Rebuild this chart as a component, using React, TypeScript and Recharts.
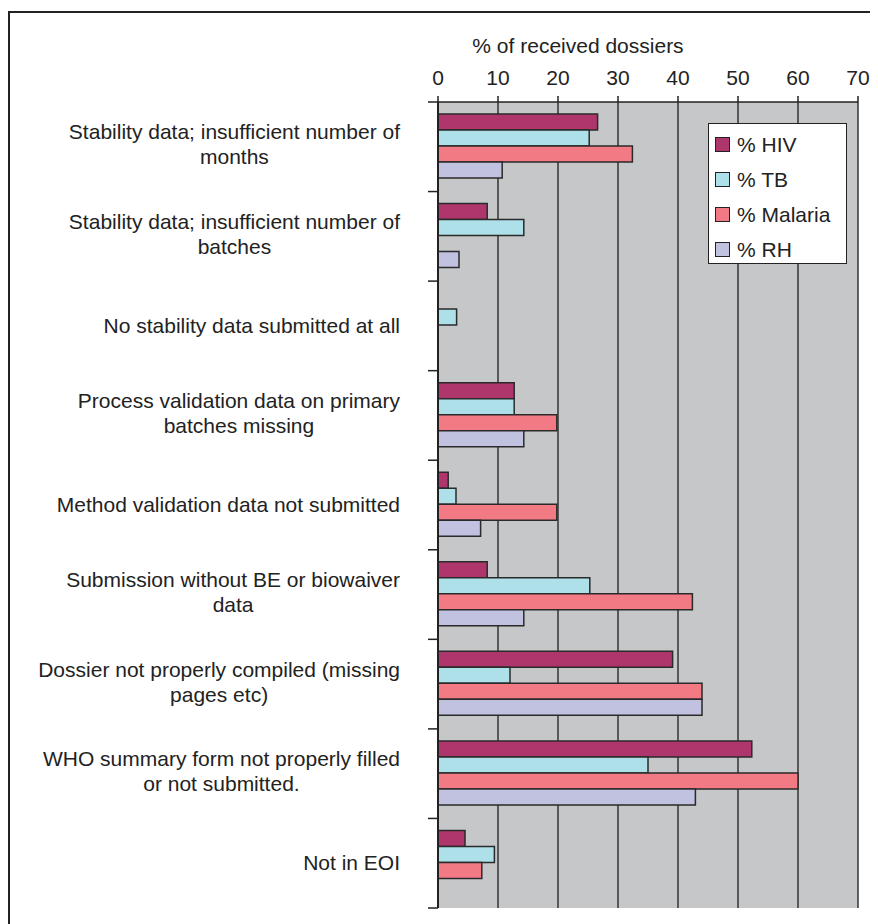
import React from 'react';
import { BarChart, Bar, XAxis, YAxis, CartesianGrid, Label } from 'recharts';

const categories = [
  'Stability data; insufficient number of\nmonths',
  'Stability data; insufficient number of\nbatches',
  'No stability data submitted at all',
  'Process validation data on primary\nbatches missing',
  'Method validation data not submitted',
  'Submission without BE or biowaiver\ndata',
  'Dossier not properly compiled (missing\npages etc)',
  'WHO summary form not properly filled\nor not submitted.',
  'Not in EOI',
];

const hiv = [26.6, 8.2, 0, 12.7, 1.7, 8.2, 39.1, 52.3, 4.5];
const tb = [25.2, 14.3, 3.1, 12.7, 3, 25.3, 12, 35, 9.4];
const malaria = [32.4, 0, 0, 19.8, 19.8, 42.4, 44, 60, 7.3];
const rh = [10.7, 3.5, 0, 14.3, 7.1, 14.3, 44, 42.9, 0];

const xTicks = [0, 10, 20, 30, 40, 50, 60, 70];

const series = [
  { key: 'hiv', name: '% HIV', color: '#ae366d' },
  { key: 'tb', name: '% TB', color: '#aee0ea' },
  { key: 'malaria', name: '% Malaria', color: '#f27a84' },
  { key: 'rh', name: '% RH', color: '#c1c1e0' },
];

const data = categories.map((c, i) => ({
  cat: c,
  hiv: hiv[i],
  tb: tb[i],
  malaria: malaria[i],
  rh: rh[i],
}));

const FONT = "'Liberation Sans', Arial, sans-serif";
const CHART_W = 870;
const CHART_H = 916;
const TOP = 94;
const BOTTOM = 16;
const PLOT_H = CHART_H - TOP - BOTTOM;
const BAND = PLOT_H / categories.length;

let ctx: CanvasRenderingContext2D | null = null;
function measure(s: string) {
  if (!ctx) {
    ctx = document.createElement('canvas').getContext('2d');
  }
  if (!ctx) return s.length * 10;
  ctx.font = `21px ${FONT}`;
  return ctx.measureText(s).width;
}

function CategoryTick(props: any) {
  const { x, y, payload, index } = props;
  const lines: string[] = String(payload.value).split('\n');
  const right = x - 28;
  const w1 = measure(lines[0]);
  const cx = right - w1 / 2;
  const lh = 25;
  const start = y - ((lines.length - 1) * lh) / 2 - (lines.length > 1 ? 2 : 0);
  return (
    <g>
      <line x1={x} x2={x + 10} y1={y - BAND / 2} y2={y - BAND / 2} stroke="#222" strokeWidth={1.5} />
      {index === categories.length - 1 && (
        <line x1={x} x2={x + 10} y1={y + BAND / 2} y2={y + BAND / 2} stroke="#222" strokeWidth={1.5} />
      )}
      {lines.map((l, i) => (
        <text
          key={i}
          x={cx}
          y={start + i * lh + 7}
          textAnchor="middle"
          fontSize={21}
          fontFamily={FONT}
          fill="#222"
        >
          {l}
        </text>
      ))}
    </g>
  );
}

function LegendBox() {
  return (
    <div
      style={{
        position: 'absolute',
        left: 700,
        top: 115,
        boxSizing: 'border-box',
        width: 139,
        height: 141,
        background: '#fff',
        border: '1.5px solid #222',
        paddingTop: 3,
        paddingLeft: 6,
        fontFamily: FONT,
        fontSize: 21,
        color: '#222',
      }}
    >
      {series.map((s) => (
        <div key={s.key} style={{ height: 35, display: 'flex', alignItems: 'center' }}>
          <span
            style={{
              display: 'inline-block',
              boxSizing: 'border-box',
              width: 15,
              height: 15,
              background: s.color,
              border: '1.5px solid #222',
              marginRight: 7,
            }}
          />
          <span>{s.name}</span>
        </div>
      ))}
    </div>
  );
}

export default function App() {
  return (
    <div style={{ position: 'relative', width: CHART_W, height: CHART_H }}>
      <div
        style={{
          position: 'absolute',
          left: 0,
          top: 3,
          width: CHART_W,
          height: CHART_H - 3,
          boxSizing: 'border-box',
          borderLeft: '2.5px solid #222',
          borderTop: '2px solid #222',
        }}
      />
      <BarChart
        width={CHART_W}
        height={CHART_H}
        data={data}
        layout="vertical"
        margin={{ top: 0, right: 20, left: 0, bottom: BOTTOM }}
        barCategoryGap="13.4%"
        barGap={0}
      >
        <CartesianGrid vertical horizontal={false} fill="#c6c7c9" stroke="#333" strokeWidth={1.5} />
        <XAxis
          type="number"
          orientation="top"
          domain={[0, 70]}
          ticks={xTicks}
          height={TOP}
          interval={0}
          tickSize={6}
          tickMargin={11}
          stroke="#222"
          strokeWidth={1.5}
          tick={{ fontSize: 21, fontFamily: FONT, fill: '#222' }}
        >
          <Label
            value="% of received dossiers"
            position="insideTop"
            offset={30}
            dx={-70}
            style={{ fontSize: 21, fontFamily: FONT, fill: '#222' }}
          />
        </XAxis>
        <XAxis
          xAxisId="b"
          type="number"
          orientation="bottom"
          domain={[0, 70]}
          height={0}
          tick={false}
          tickLine={false}
          stroke="#a0a0a0"
          strokeWidth={2}
        />
        <YAxis
          type="category"
          dataKey="cat"
          width={430}
          interval={0}
          tickLine={false}
          tickSize={10}
          tickMargin={0}
          stroke="#222"
          strokeWidth={2}
          tick={<CategoryTick />}
        />
        <YAxis
          yAxisId="r"
          type="category"
          dataKey="cat"
          orientation="right"
          width={0}
          tick={false}
          tickLine={false}
          stroke="#a0a0a0"
          strokeWidth={2}
        />
        {series.map((s) => (
          <Bar
            key={s.key}
            dataKey={s.key}
            name={s.name}
            fill={s.color}
            stroke="#2a2a2a"
            strokeWidth={1.5}
            isAnimationActive={false}
          />
        ))}
      </BarChart>
      <LegendBox />
    </div>
  );
}
